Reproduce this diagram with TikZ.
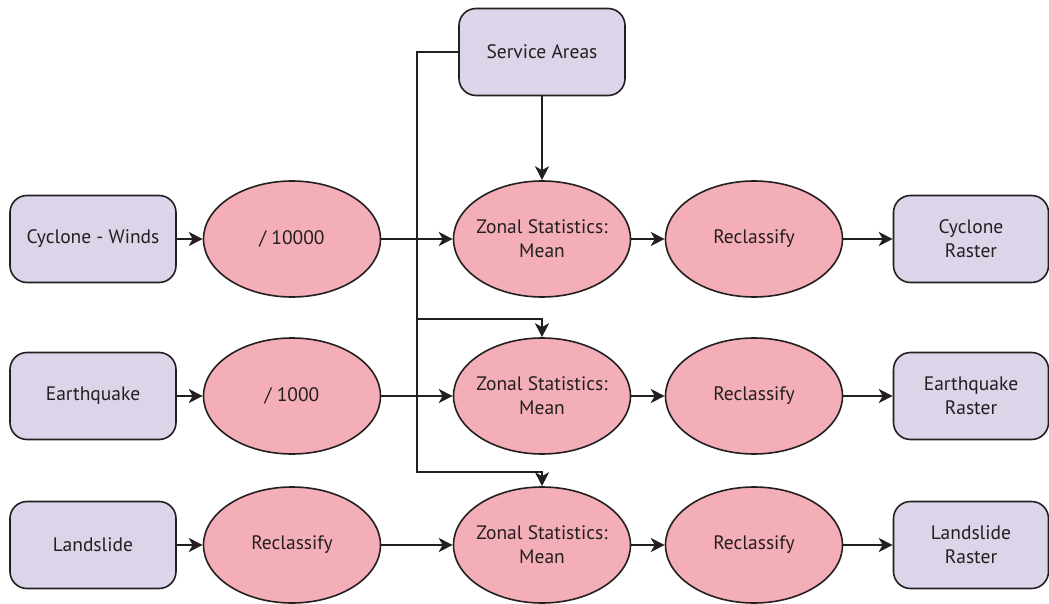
\documentclass[tikz,border=0pt]{standalone}
\usepackage{fontspec}
\setmainfont{PT Sans}
\usetikzlibrary{shapes.geometric,arrows.meta}
\definecolor{boxfill}{RGB}{220,212,232}
\definecolor{opfill}{RGB}{244,174,183}
\definecolor{ink}{RGB}{35,31,32}
\tikzset{
  datanode/.style={draw=ink, line width=1.6pt, fill=boxfill, rounded corners=17pt,
    minimum width=166pt, minimum height=87pt, inner sep=0pt, align=center,
    text=ink, font=\fontsize{19.5}{24}\selectfont},
  opnode/.style={draw=ink, line width=1.6pt, fill=opfill, ellipse,
    minimum width=177pt, minimum height=116pt, inner xsep=-20pt, inner ysep=0pt,
    align=center, text=ink, font=\fontsize{19.5}{24}\selectfont},
  flow/.style={draw=ink, line width=1.7pt, -{Stealth[length=14pt,width=14pt,inset=4pt]}}
}
\begin{document}
\begin{tikzpicture}[x=1pt,y=-1pt]
\useasboundingbox (0,0) rectangle (1049,604);

% source rasters
\node[datanode] (sa) at (542,52) {Service Areas};
\node[datanode] (cw) at (93,239) {Cyclone - Winds};
\node[datanode] (eq) at (93,396) {Earthquake};
\node[datanode] (ls) at (93,545) {Landslide};

% first processing step
\node[opnode] (d1) at (292,239) {/ 10000};
\node[opnode] (d2) at (292,396) {/ 1000};
\node[opnode] (r0) at (292,545) {Reclassify};

% zonal statistics
\node[opnode] (z1) at (542,239) {Zonal Statistics:\\Mean};
\node[opnode] (z2) at (542,396) {Zonal Statistics:\\Mean};
\node[opnode] (z3) at (542,545) {Zonal Statistics:\\Mean};

% reclassification
\node[opnode] (r1) at (754,239) {Reclassify};
\node[opnode] (r2) at (754,396) {Reclassify};
\node[opnode] (r3) at (754,545) {Reclassify};

% outputs
\node[datanode, minimum width=155pt] (o1) at (971,239) {Cyclone\\Raster};
\node[datanode, minimum width=155pt] (o2) at (971,396) {Earthquake\\Raster};
\node[datanode, minimum width=155pt] (o3) at (971,545) {Landslide\\Raster};

% service area trunk
\coordinate (t1) at (417,319);
\coordinate (t2) at (417,472);
\draw[flow] (sa.south) -- (z1.north);
\draw[flow] (sa.west) -| (t2) -| (z3.north);
\draw[flow] (t1) -| (z2.north);

% row connectors
\draw[flow] (cw) -- (d1);
\draw[flow] (d1) -- (z1);
\draw[flow] (z1) -- (r1);
\draw[flow] (r1) -- (o1);

\draw[flow] (eq) -- (d2);
\draw[flow] (d2) -- (z2);
\draw[flow] (z2) -- (r2);
\draw[flow] (r2) -- (o2);

\draw[flow] (ls) -- (r0);
\draw[flow] (r0) -- (z3);
\draw[flow] (z3) -- (r3);
\draw[flow] (r3) -- (o3);
\end{tikzpicture}
\end{document}
